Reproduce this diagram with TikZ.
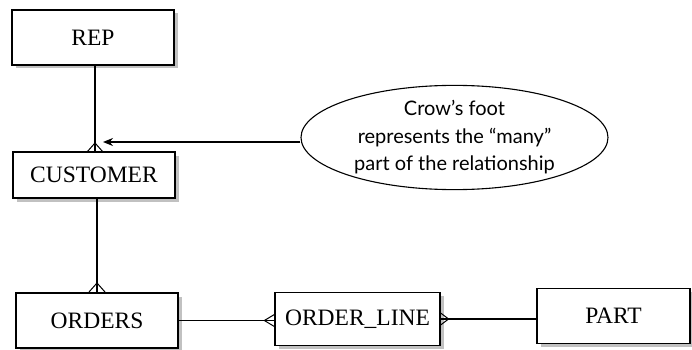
\documentclass[tikz,border=0pt]{standalone}
\usepackage{fontspec}
\setmainfont{Liberation Serif}
\newfontfamily\notefont{Lato}
\usetikzlibrary{shapes.geometric,shadows,arrows.meta,calc}
\begin{document}
\begin{tikzpicture}[x=1pt,y=-1pt,
  entity/.style={draw=black,line width=1.3pt,fill=white,inner sep=0pt,
    font=\fontsize{23.5}{26}\selectfont,
    drop shadow={shadow xshift=3.5pt,shadow yshift=-3.5pt,fill=black!30,opacity=0.8}},
  link/.style={line width=1.1pt},
  foot/.style={line width=1pt},
  note/.style={ellipse,draw=black,line width=1.1pt,fill=white,inner sep=0pt,
    minimum width=307pt,minimum height=96pt,align=center,
    font=\notefont\fontsize{20}{27.5}\selectfont}]
\useasboundingbox (0,0) rectangle (692,350);

% entities
\node[entity,minimum width=162pt,minimum height=55pt] (rep) at (93,37.5) {REP};
\node[entity,minimum width=162pt,minimum height=46pt] (customer) at (94,175) {CUSTOMER};
\node[entity,minimum width=162pt,minimum height=55pt] (orders) at (97,320.5) {ORDERS};
\node[entity,minimum width=165pt,minimum height=53pt] (orderline) at (357.5,319) {ORDER\_LINE};
\node[entity,minimum width=153pt,minimum height=55pt] (part) at (613.5,316) {PART};

% callout
\node[note] (callout) at (454.5,137.5) {Crow’s foot\\represents the “many”\\part of the relationship};

% relationships
\coordinate (cA) at (95,152);
\coordinate (cB) at (97,292);
\draw[link] (rep.south -| cA) -- (cA);
\draw[link] (customer.south -| cB) -- (cB);
\draw[link] (orders.east) -- (orders.east -| orderline.west);
\draw[link] (orderline.east) -- (orderline.east -| part.west);

% crow's feet
\foreach \dx in {-8,0,8} \draw[foot] ($(cA)+(0,-9)$) -- ($(cA)+(\dx,0)$);
\foreach \dx in {-8,0,8} \draw[foot] ($(cB)+(0,-9)$) -- ($(cB)+(\dx,0)$);
\coordinate (cC) at (orders.east -| orderline.west);
\foreach \dy in {-6,0,6} \draw[foot] ($(cC)+(-10,0)$) -- ($(cC)+(0,\dy)$);
\coordinate (cD) at (orderline.east);
\foreach \dy in {-6,0,6} \draw[foot] ($(cD)+(8,0)$) -- ($(cD)+(0,\dy)$);

% pointer from the callout
\coordinate (tip) at (103,142);
\draw[link,-{Stealth[length=10pt,width=8pt]}] (callout.west |- tip) -- (tip);
\end{tikzpicture}
\end{document}
